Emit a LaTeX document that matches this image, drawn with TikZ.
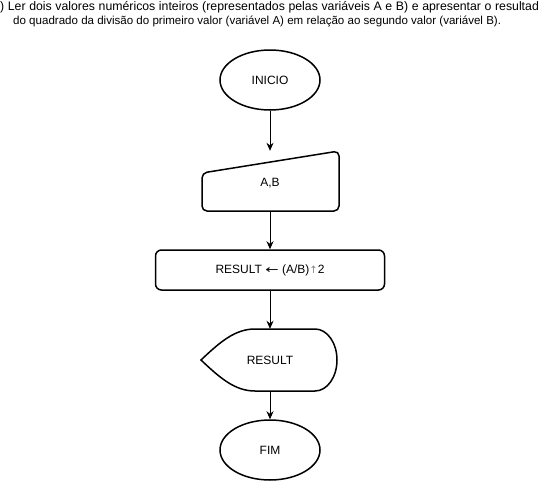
\documentclass[tikz,border=0pt]{standalone}
\usepackage{fontspec}
\setmainfont{Liberation Sans}
\newfontfamily\simbolo{DejaVu Sans}
\usetikzlibrary{shapes.geometric,arrows.meta}

\begin{document}
\begin{tikzpicture}[x=1pt,y=-1pt,
    forma/.style={line width=1.5pt},
    texto/.style={font=\fontsize{12}{14}\selectfont},
    terminal/.style={ellipse,draw,forma,texto,minimum width=100pt,minimum height=60pt,inner sep=0pt},
    caixa/.style={texto,minimum width=138pt,inner sep=0pt},
    seta/.style={-{Stealth[length=8pt,width=7pt]},line width=0.8pt}]
          \useasboundingbox (0,0) rectangle (541,482);
          \def\cx{270}

          \node[font=\fontsize{12.3}{14}\selectfont,anchor=base west,inner sep=0pt] (titulo) at (0,10.5)
            {\spaceskip=3.6pt ) Ler dois valores numéricos inteiros (representados pelas variáveis A e B) e apresentar o resultad};
          \node[font=\fontsize{11.55}{14}\selectfont,anchor=base west,inner sep=0pt] (subtitulo) at (13,24)
            {do quadrado da divisão do primeiro valor (variável A) em relação ao segundo valor (variável B).};

          \node[terminal] (inicio) at (\cx,80) {INICIO};

          \node[caixa,minimum height=60pt] (entrada) at (\cx,181) {};
          \node[texto] (entradatxt) at (\cx,183) {A,B};
          \draw[forma,rounded corners=5pt]
          (202,173)
          -- (339,151)
          -- (339,211)
          -- (202,211)
          -- cycle;

          \node[draw,forma,texto,rounded corners=6pt,minimum width=229pt,minimum height=40pt] (calculo) at (\cx,270)
            {RESULT {\simbolo\fontsize{11}{14}\selectfont\scalebox{1.45}[1]{←}} (A/B){\simbolo\fontsize{10}{14}\selectfont\color{gray}↑}2};

          \node[caixa,minimum height=62pt] (saida) at (\cx,360) {RESULT};
          \draw[forma]
          (255,329)
          -- (315,329)
          arc[start angle=-90,end angle=90,x radius=22,y radius=31]
          -- (255,391)
          .. controls (235,391) and (220,378) .. (201,360)
          .. controls (220,342) and (235,329) .. (255,329)
          -- cycle;

          \node[terminal] (fim) at (\cx,450) {FIM};

          \draw[seta] (inicio) -- (entrada);
          \draw[seta] (entrada) -- (calculo);
          \draw[seta] (calculo) -- (saida);
          \draw[seta] (saida) -- (fim);
\end{tikzpicture}
\end{document}
